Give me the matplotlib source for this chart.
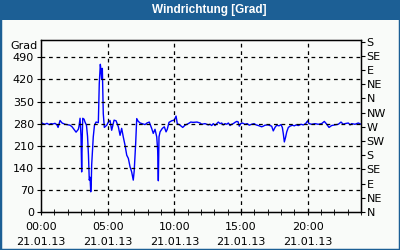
"""Windrichtung [Grad] chart, 21.01.13."""

import matplotlib

matplotlib.use("Agg")
import matplotlib.pyplot as plt  # noqa: E402
from matplotlib.patches import Rectangle  # noqa: E402

# hours since 00:00 and wind direction in degrees
hours = [
    0.00, 0.15, 0.30, 0.45, 0.60, 0.75, 0.90, 1.05, 1.20, 1.28, 1.43, 1.58,
    1.80, 2.03, 2.18, 2.33, 2.42, 2.55, 2.63, 2.80, 2.85, 2.93, 3.00, 3.05,
    3.10, 3.13, 3.23, 3.30, 3.41, 3.49, 3.56, 3.62, 3.68, 3.73, 3.77, 3.80,
    3.92, 4.01, 4.13, 4.30, 4.37, 4.45, 4.50, 4.55, 4.60, 4.67, 4.75, 4.93,
    5.05, 5.18, 5.30, 5.48, 5.63, 5.80, 5.93, 6.05, 6.17, 6.30, 6.43, 6.55,
    6.68, 6.80, 6.92, 6.99, 7.10, 7.18, 7.28, 7.43, 7.65, 7.80, 7.95, 8.12,
    8.30, 8.42, 8.55, 8.68, 8.75, 8.80, 8.85, 8.93, 9.10, 9.25, 9.38, 9.47,
    9.60, 9.80, 9.98, 10.05, 10.13, 10.22, 10.43, 10.63, 10.80, 11.05, 11.23,
    11.40, 11.70, 11.93, 12.05, 12.30, 12.55, 12.68, 12.80, 12.92, 13.05,
    13.18, 13.30, 13.43, 13.55, 13.67, 13.80, 13.93, 14.05, 14.18, 14.30,
    14.42, 14.55, 14.68, 14.78, 14.87, 14.98, 15.10, 15.30, 15.47, 15.62,
    15.80, 15.98, 16.13, 16.30, 16.55, 16.67, 16.80, 17.03, 17.30, 17.42,
    17.55, 17.68, 17.85, 18.00, 18.10, 18.17, 18.25, 18.35, 18.43, 18.55,
    18.68, 18.85, 19.00, 19.13, 19.30, 19.50, 19.67, 19.85, 20.00, 20.10,
    20.30, 20.55, 20.80, 21.05, 21.25, 21.43, 21.60, 21.80, 22.05, 22.30,
    22.50, 22.67, 22.80, 23.05, 23.18, 23.30, 23.55, 23.80, 24.00,
]
direction = [
    284, 280, 278, 281, 277, 280, 279, 281, 276, 268, 290, 282,
    278, 276, 275, 270, 265, 258, 253, 262, 272, 297, 240, 127,
    250, 297, 294, 285, 275, 240, 180, 101, 110, 64, 90, 149,
    238, 275, 285, 283, 407, 468, 449, 420, 455, 312, 268, 275,
    285, 290, 259, 291, 289, 270, 243, 265, 238, 212, 180, 170,
    143, 127, 101, 130, 217, 296, 288, 282, 279, 277, 282, 285,
    265, 249, 262, 238, 196, 99, 238, 254, 265, 270, 254, 262,
    284, 289, 291, 296, 304, 280, 275, 268, 275, 280, 285,
    284, 285, 282, 278, 280, 276, 278, 274, 280, 274,
    280, 285, 280, 282, 276, 280, 278, 282, 274, 278,
    280, 284, 287, 286, 272, 280, 282, 278, 280, 275,
    278, 280, 276, 274, 270, 272, 275, 276, 272, 257,
    268, 275, 273, 277, 268, 249, 222, 238, 254, 268,
    272, 275, 273, 276, 274, 278, 276, 280, 289, 280,
    278, 280, 278, 280, 287, 278, 268, 274, 276, 278,
    285, 278, 280, 282, 276, 280, 278, 282, 278,
]

left_ticks = [0, 70, 140, 210, 280, 350, 420, 490]
compass_ticks = [0, 45, 90, 135, 180, 225, 270, 315, 360, 405, 450, 495, 540]
compass_labels = ["N", "NE", "E", "SE", "S", "SW", "W", "NW",
                  "N", "NE", "E", "SE", "S"]
x_ticks = [0, 5, 10, 15, 20]
x_labels = ["00:00\n21.01.13", "05:00\n21.01.13", "10:00\n21.01.13",
            "15:00\n21.01.13", "20:00\n21.01.13"]

frame_blue = "#1c5f95"
bg = "#f9fbf9"

plt.rcParams["font.family"] = "DejaVu Sans"
fig = plt.figure(figsize=(4, 2.5), dpi=100, facecolor=bg)

# outer frame and title bar
fig.patches.append(Rectangle((0, 0), 1, 1, transform=fig.transFigure,
                             fill=False, edgecolor=frame_blue, lw=2.5))
fig.patches.append(Rectangle((0, 1 - 20 / 250), 1, 20 / 250,
                             transform=fig.transFigure,
                             facecolor=frame_blue, edgecolor="none"))
fig.text(0.524, 1 - 10.5 / 250, "Windrichtung [Grad]", color="white",
         fontsize=8.5, fontweight="bold", family="Liberation Sans",
         ha="center", va="center")

ax = fig.add_axes([41 / 400, 1 - 212 / 250, 320 / 400, 172 / 250])
ax.set_facecolor(bg)
ax.plot(hours, direction, color="#0000ff", lw=1)
ax.set_xlim(0, 24)
ax.set_ylim(0, 545)

ax.set_yticks(left_ticks)
ax.set_xticks(x_ticks)
ax.set_xticklabels(x_labels, linespacing=1.7)
ax.set_xticks(range(0, 25), minor=True)
ax.tick_params(axis="y", direction="out", length=3, labelsize=8, pad=2)
ax.tick_params(axis="x", which="both", direction="inout", length=4,
               labelsize=8, pad=5)
for s in ax.spines.values():
    s.set_linewidth(1)

for yv in left_ticks[1:]:
    ax.axhline(yv, color="black", lw=0.9, ls=(0, (3, 3)))
for xv in x_ticks[1:]:
    ax.axvline(xv, color="black", lw=0.9, ls=(0, (3, 3)))

ax2 = ax.twinx()
ax2.set_ylim(0, 545)
ax2.set_yticks(compass_ticks)
ax2.set_yticklabels(compass_labels)
ax2.tick_params(axis="y", direction="out", length=3, labelsize=8, pad=1)

fig.text(38 / 400, 1 - 46 / 250, "Grad", fontsize=8, ha="right", va="center")

fig.savefig("out.png", dpi=100, facecolor=bg)
